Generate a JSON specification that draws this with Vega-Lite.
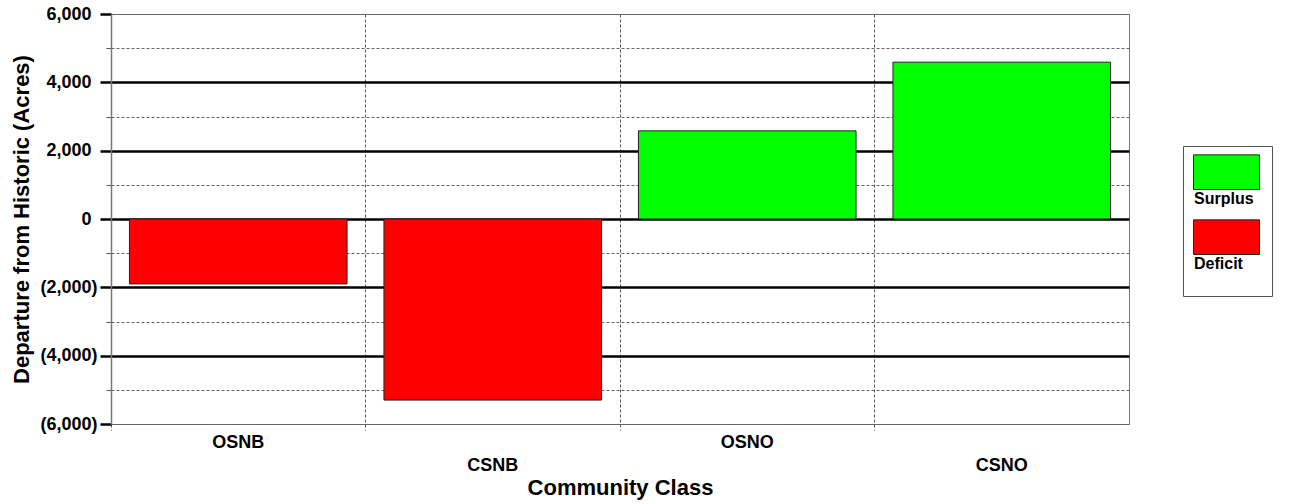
{
  "$schema": "https://vega.github.io/schema/vega-lite/v6.json",
  "width": 1018,
  "height": 410,
  "autosize": {"type": "none"},
  "padding": {"left": 111, "top": 14, "right": 165, "bottom": 80},
  "background": "white",
  "config": {
    "view": {"stroke": "#777", "strokeWidth": 1},
    "font": "Liberation Sans"
  },
  "data": {
    "values": [
      {"community": "OSNB", "departure": -1900, "status": "Deficit"},
      {"community": "CSNB", "departure": -5300, "status": "Deficit"},
      {"community": "OSNO", "departure": 2580, "status": "Surplus"},
      {"community": "CSNO", "departure": 4590, "status": "Surplus"}
    ]
  },
  "mark": {"type": "bar", "width": {"band": 0.855}, "stroke": "#222", "strokeWidth": 1},
  "encoding": {
    "x": {
      "field": "community",
      "type": "nominal",
      "sort": null,
      "scale": {"paddingInner": 0, "paddingOuter": 0},
      "axis": {
        "title": "Community Class",
        "titleFontSize": 22,
        "titleFontWeight": "bold",
        "titleColor": "black",
        "titlePadding": 3,
        "labelAngle": 0,
        "labelFontSize": 18,
        "labelFontWeight": "bold",
        "labelColor": "black",
        "labelOverlap": false,
        "labelPadding": {"condition": {"test": "datum.value == 'CSNB' || datum.value == 'CSNO'", "value": 26}, "value": 3},
        "bandPosition": 0,
        "grid": true,
        "gridColor": "#555",
        "gridDash": [3, 2],
        "gridWidth": 1,
        "ticks": true,
        "tickSize": 6,
        "tickColor": "#555",
        "tickDash": [3, 2],
        "domain": false
      }
    },
    "y": {
      "field": "departure",
      "type": "quantitative",
      "scale": {"domain": [-6000, 6000], "nice": false},
      "axis": {
        "title": "Departure from Historic (Acres)",
        "titleFontSize": 22,
        "titleFontWeight": "bold",
        "titleColor": "black",
        "titlePadding": 6,
        "values": [-6000, -5000, -4000, -3000, -2000, -1000, 0, 1000, 2000, 3000, 4000, 5000, 6000],
        "labelExpr": "datum.value % 2000 != 0 ? '' : (datum.value < 0 ? '(' + format(-datum.value, ',') + ')' : format(datum.value, ','))",
        "labelFontSize": 18,
        "labelFontWeight": "bold",
        "labelColor": "black",
        "labelPadding": {"condition": {"test": "datum.value >= 0", "value": 9}, "value": 3},
        "grid": true,
        "gridColor": {"condition": [{"test": "abs(datum.value) == 6000", "value": "#666"}, {"test": "datum.value % 2000 == 0", "value": "black"}], "value": "#666"},
        "gridWidth": {"condition": [{"test": "abs(datum.value) == 6000", "value": 1}, {"test": "datum.value % 2000 == 0", "value": 2.5}], "value": 1},
        "gridDash": {"condition": {"test": "datum.value % 2000 == 0", "value": []}, "value": [3, 2]},
        "ticks": true,
        "tickSize": {"condition": {"test": "datum.value % 2000 == 0", "value": 11}, "value": 5},
        "tickWidth": {"condition": {"test": "datum.value % 2000 == 0", "value": 2.5}, "value": 1},
        "tickColor": {"condition": {"test": "datum.value % 2000 == 0", "value": "black"}, "value": "#555"},
        "domainColor": "#777",
        "domainWidth": 1.5
      }
    },
    "color": {
      "field": "status",
      "type": "nominal",
      "scale": {"domain": ["Surplus", "Deficit"], "range": ["#00ff00", "#ff0000"]},
      "legend": {
        "title": null,
        "orient": "none",
        "legendX": 1072,
        "legendY": 132,
        "symbolType": "M-1,-1.05H1V0H-1Z",
        "symbolSize": 4356,
        "symbolStrokeColor": "#222",
        "symbolStrokeWidth": 1,
        "symbolOpacity": 1,
        "labelFontSize": 16,
        "labelFontWeight": "bold",
        "labelColor": "black",
        "labelBaseline": "top",
        "labelOffset": -66,
        "labelExpr": "[datum.label, '\u00a0']",
        "strokeColor": "#555",
        "padding": 10,
        "rowPadding": -5,
        "encode": {"labels": {"update": {"dy": {"value": 1}, "lineHeight": {"value": 14}}}}
      }
    }
  }
}
